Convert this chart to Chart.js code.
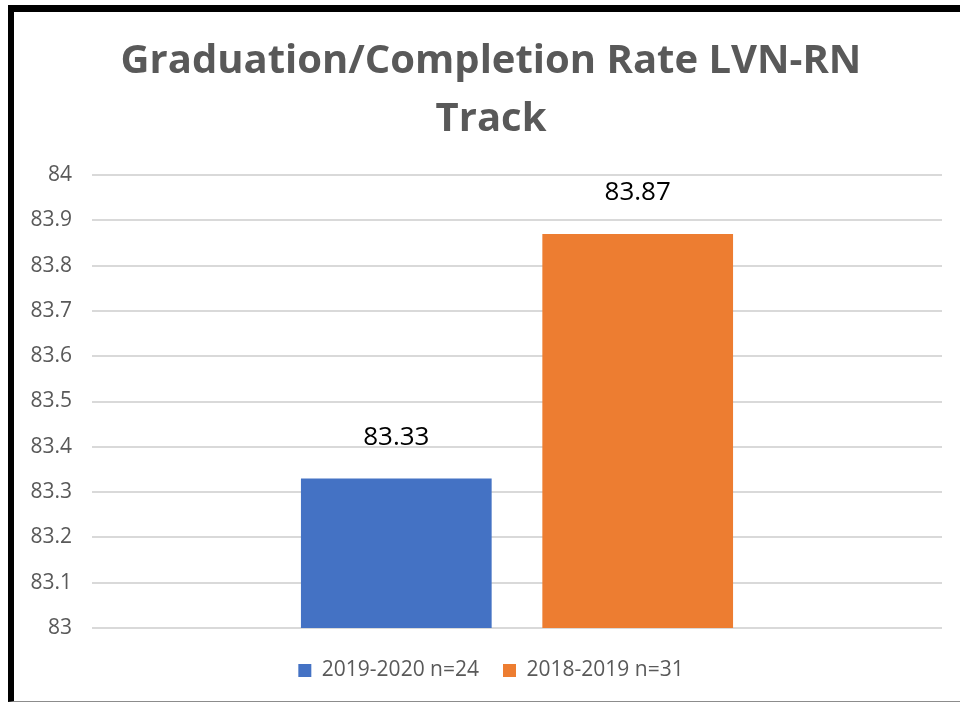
<!DOCTYPE html>
<html>
<head>
<meta charset="utf-8">
<script src="https://cdn.jsdelivr.net/npm/chart.js"></script>
<style>
  html, body { margin: 0; padding: 0; background: #fff; overflow: hidden; }
  #frame {
    position: absolute;
    left: 8px; top: 5px;
    width: 952px; height: 697px;
    border-top: 7px solid #000;
    border-left: 6px solid #000;
    border-bottom: 1px solid #8c8c8c;
    box-sizing: border-box;
  }
  #wrap { position: absolute; left: 0; top: 0; width: 946px; height: 689px; }
</style>
</head>
<body>
<div id="frame"><div id="wrap"><canvas id="gradChart"></canvas></div></div>
<script>
const titleLines = ["Graduation/Completion Rate LVN-RN", "Track"];
const categories = [""];
const seriesNames = ["2019-2020 n=24", "2018-2019 n=31"];
const seriesValues = [[83.33], [83.87]];
const seriesColors = ["#4472c4", "#ed7d31"];
const yMin = 83, yMax = 84, yStep = 0.1;

// draws the value above each bar
const valueLabels = {
  id: "valueLabels",
  afterDatasetsDraw(chart) {
    const ctx = chart.ctx;
    ctx.save();
    ctx.font = "26px 'Open Sans', sans-serif";
    ctx.fillStyle = "#000";
    ctx.textAlign = "center";
    ctx.textBaseline = "middle";
    chart.data.datasets.forEach((ds, i) => {
      chart.getDatasetMeta(i).data.forEach((bar, j) => {
        ctx.fillText(ds.data[j].toFixed(2), bar.x, bar.y - 41);
      });
    });
    ctx.restore();
  }
};

const ctx = document.getElementById("gradChart").getContext("2d");
new Chart(ctx, {
  type: "bar",
  data: {
    labels: categories,
    datasets: seriesNames.map((name, i) => ({
      label: name,
      data: seriesValues[i],
      backgroundColor: seriesColors[i],
      borderWidth: 0,
      categoryPercentage: 0.568,
      barPercentage: 0.79
    }))
  },
  options: {
    responsive: true,
    maintainAspectRatio: false,
    animation: false,
    layout: { padding: { left: 10, right: 2, top: 0, bottom: 10 } },
    scales: {
      x: {
        grid: { display: false },
        border: { display: false },
        ticks: { display: false }
      },
      y: {
        min: yMin,
        max: yMax,
        afterFit: s => { s.width = 68; },
        ticks: {
          stepSize: yStep,
          color: "#595959",
          font: { family: "'Open Sans', sans-serif", size: 21 },
          padding: 20,
          callback: v => parseFloat(v.toFixed(1))
        },
        grid: { color: "#d9d9d9", lineWidth: 2, drawTicks: false },
        border: { display: false }
      },
      // empty right-hand spacer so the title centres like the original
      spacer: {
        type: "linear",
        position: "right",
        afterFit: s => { s.width = 16; },
        grid: { display: false },
        ticks: { display: false },
        border: { display: false }
      }
    },
    plugins: {
      title: {
        display: true,
        text: titleLines,
        color: "#595959",
        font: { family: "'Open Sans', sans-serif", size: 40, weight: "bold", lineHeight: 1.45 },
        padding: { top: 21, bottom: 26 }
      },
      legend: {
        position: "bottom",
        labels: {
          boxWidth: 13,
          boxHeight: 13,
          color: "#595959",
          font: { family: "'Open Sans', sans-serif", size: 21 },
          padding: 24
        }
      },
      tooltip: { enabled: false }
    }
  },
  plugins: [valueLabels]
});
</script>
</body>
</html>
